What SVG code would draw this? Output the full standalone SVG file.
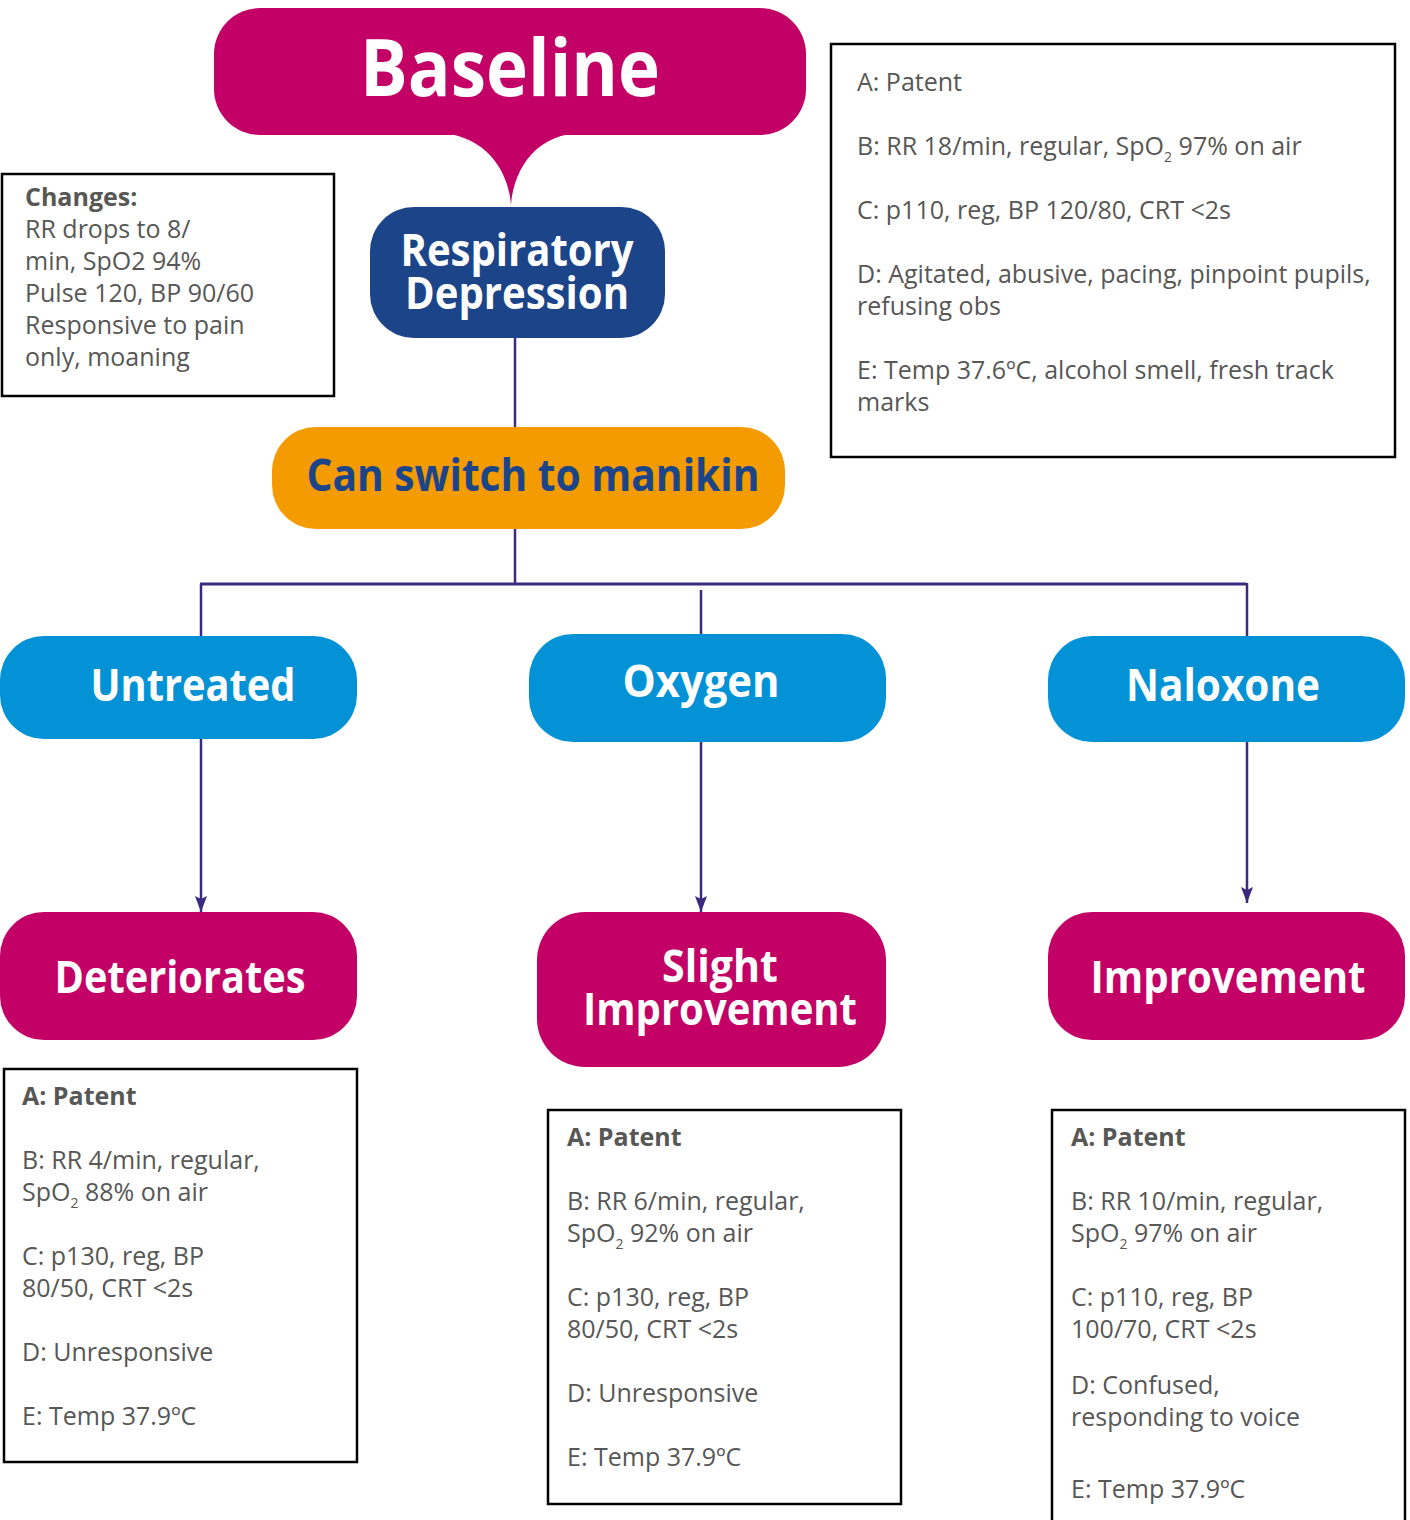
<svg xmlns="http://www.w3.org/2000/svg" width="1410" height="1520" viewBox="0 0 1410 1520">
<defs>
<style>
.mag{fill:#c20066}
.blu{fill:#0392d5}
.dblu{fill:#1b4489}
.org{fill:#f39b00}
.hd{font-family:"Open Sans","Noto Sans",sans-serif;font-weight:bold;fill:#ffffff;text-anchor:middle}
.box{fill:#ffffff;stroke:#000000;stroke-width:2.5}
.tx{font-family:"Open Sans","Noto Sans",sans-serif;font-size:25px;fill:#575756}
.b{font-weight:bold}
.sub{font-size:14px}
.con{stroke:#3b2a80;stroke-width:2.5;fill:none}
</style>
<marker id="arr" viewBox="0 0 16 12" refX="16" refY="6" markerWidth="16" markerHeight="12" markerUnits="userSpaceOnUse" orient="auto">
<path d="M0 0 L3 6 L0 12 L16 6 Z" fill="#3b2a80"/>
</marker>
</defs>
<rect width="1410" height="1520" fill="#ffffff"/>

<g id="connectors">
<line class="con" x1="515" y1="338" x2="515" y2="428"/>
<line class="con" x1="515" y1="528" x2="515" y2="584"/>
<line class="con" x1="200" y1="584" x2="1246" y2="584" style="stroke-width:3"/>
<line class="con" x1="201" y1="584" x2="201" y2="637"/>
<line class="con" x1="701" y1="590" x2="701" y2="635"/>
<line class="con" x1="1247" y1="583" x2="1247" y2="637"/>
<line class="con" x1="201" y1="739" x2="201" y2="912" marker-end="url(#arr)"/>
<line class="con" x1="701" y1="742" x2="701" y2="912" marker-end="url(#arr)"/>
<line class="con" x1="1247" y1="742" x2="1247" y2="903" marker-end="url(#arr)"/>
</g>

<g id="baseline">
<rect class="mag" x="214" y="8" width="592" height="127" rx="46"/>
<path class="mag" d="M436 133 C480 133 508 165 511 205 C514 165 540 133 582 133 Z"/>
<text class="hd" x="510" y="96" font-size="78" textLength="300" lengthAdjust="spacingAndGlyphs">Baseline</text>
</g>

<g id="respiratory-depression">
<rect class="dblu" x="370" y="207" width="295" height="131" rx="44"/>
<text class="hd" font-size="44"><tspan x="517" y="266" textLength="233" lengthAdjust="spacingAndGlyphs">Respiratory</tspan><tspan x="517" y="309" textLength="224" lengthAdjust="spacingAndGlyphs">Depression</tspan></text>
</g>

<g id="manikin">
<rect class="org" x="272" y="427" width="513" height="102" rx="44"/>
<text class="hd" x="533" y="491" font-size="44" style="fill:#1b4489" textLength="453" lengthAdjust="spacingAndGlyphs">Can switch to manikin</text>
</g>

<g id="untreated">
<rect class="blu" x="0" y="636" width="357" height="103" rx="44"/>
<text class="hd" x="193" y="701" font-size="44" textLength="205" lengthAdjust="spacingAndGlyphs">Untreated</text>
</g>

<g id="oxygen">
<rect class="blu" x="529" y="634" width="357" height="108" rx="44"/>
<text class="hd" x="701" y="697" font-size="44" textLength="157" lengthAdjust="spacingAndGlyphs">Oxygen</text>
</g>

<g id="naloxone">
<rect class="blu" x="1048" y="636" width="357" height="106" rx="44"/>
<text class="hd" x="1223" y="701" font-size="44" textLength="194" lengthAdjust="spacingAndGlyphs">Naloxone</text>
</g>

<g id="deteriorates">
<rect class="mag" x="0" y="912" width="357" height="128" rx="44"/>
<text class="hd" x="180" y="993" font-size="44" textLength="251" lengthAdjust="spacingAndGlyphs">Deteriorates</text>
</g>

<g id="slight-improvement">
<rect class="mag" x="537" y="912" width="349" height="155" rx="48"/>
<text class="hd" font-size="44"><tspan x="720" y="982" textLength="116" lengthAdjust="spacingAndGlyphs">Slight</tspan><tspan x="720" y="1025" textLength="274" lengthAdjust="spacingAndGlyphs">Improvement</tspan></text>
</g>

<g id="improvement">
<rect class="mag" x="1048" y="912" width="357" height="128" rx="44"/>
<text class="hd" x="1228" y="993" font-size="44" textLength="275" lengthAdjust="spacingAndGlyphs">Improvement</text>
</g>

<g id="changes-box">
<rect class="box" x="2" y="174" width="332" height="222"/>
<text class="tx b" x="25" y="206">Changes:</text>
<text class="tx" x="25" y="238">RR drops to 8/</text>
<text class="tx" x="25" y="270">min, SpO2 94%</text>
<text class="tx" x="25" y="302">Pulse 120, BP 90/60</text>
<text class="tx" x="25" y="334">Responsive to pain</text>
<text class="tx" x="25" y="366">only, moaning</text>
</g>

<g id="baseline-obs">
<rect class="box" x="831" y="44" width="564" height="413"/>
<text class="tx" x="857" y="91">A: Patent</text>
<text class="tx" x="857" y="155">B: RR 18/min, regular, SpO<tspan class="sub" dy="7">2</tspan><tspan dy="-7"> 97% on air</tspan></text>
<text class="tx" x="857" y="219">C: p110, reg, BP 120/80, CRT &lt;2s</text>
<text class="tx" x="857" y="283">D: Agitated, abusive, pacing, pinpoint pupils,</text>
<text class="tx" x="857" y="315">refusing obs</text>
<text class="tx" x="857" y="379">E: Temp 37.6ºC, alcohol smell, fresh track</text>
<text class="tx" x="857" y="411">marks</text>
</g>

<g id="deteriorates-obs">
<rect class="box" x="4" y="1069" width="353" height="393"/>
<text class="tx b" x="22" y="1105">A: Patent</text>
<text class="tx" x="22" y="1169">B: RR 4/min, regular,</text>
<text class="tx" x="22" y="1201">SpO<tspan class="sub" dy="7">2</tspan><tspan dy="-7"> 88% on air</tspan></text>
<text class="tx" x="22" y="1265">C: p130, reg, BP</text>
<text class="tx" x="22" y="1297">80/50, CRT &lt;2s</text>
<text class="tx" x="22" y="1361">D: Unresponsive</text>
<text class="tx" x="22" y="1425">E: Temp 37.9ºC</text>
</g>

<g id="slight-improvement-obs">
<rect class="box" x="548" y="1110" width="353" height="394"/>
<text class="tx b" x="567" y="1146">A: Patent</text>
<text class="tx" x="567" y="1210">B: RR 6/min, regular,</text>
<text class="tx" x="567" y="1242">SpO<tspan class="sub" dy="7">2</tspan><tspan dy="-7"> 92% on air</tspan></text>
<text class="tx" x="567" y="1306">C: p130, reg, BP</text>
<text class="tx" x="567" y="1338">80/50, CRT &lt;2s</text>
<text class="tx" x="567" y="1402">D: Unresponsive</text>
<text class="tx" x="567" y="1466">E: Temp 37.9ºC</text>
</g>

<g id="improvement-obs">
<rect class="box" x="1052" y="1110" width="353" height="430"/>
<text class="tx b" x="1071" y="1146">A: Patent</text>
<text class="tx" x="1071" y="1210">B: RR 10/min, regular,</text>
<text class="tx" x="1071" y="1242">SpO<tspan class="sub" dy="7">2</tspan><tspan dy="-7">  97% on air</tspan></text>
<text class="tx" x="1071" y="1306">C: p110, reg, BP</text>
<text class="tx" x="1071" y="1338">100/70, CRT &lt;2s</text>
<text class="tx" x="1071" y="1394">D: Confused,</text>
<text class="tx" x="1071" y="1426">responding to voice</text>
<text class="tx" x="1071" y="1498">E: Temp 37.9ºC</text>
</g>
</svg>
